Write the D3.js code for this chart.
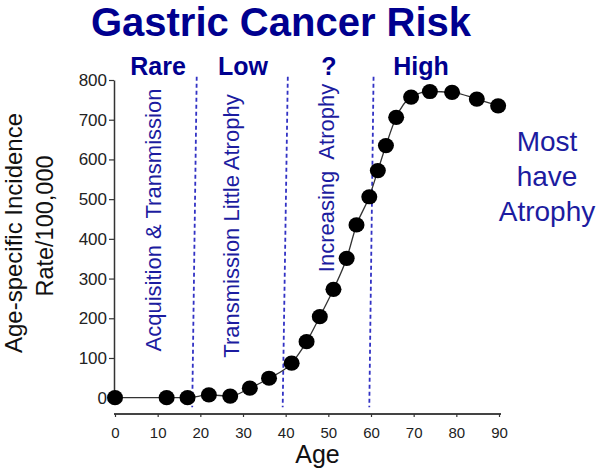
<!DOCTYPE html>
<html>
<head>
<meta charset="utf-8">
<script src="https://cdn.jsdelivr.net/npm/d3@7"></script>
<style>
  html, body { margin: 0; padding: 0; background: #fff; }
  svg { display: block; font-family: "Liberation Sans", Arial, sans-serif; }
</style>
</head>
<body>
<svg id="chart" width="600" height="475"></svg>
<script>
// ---- data ----
const ages = [0, 12.1, 17, 22, 27, 31.6, 36.1, 41.4, 44.9, 48, 51.2, 54.3, 56.6, 59.6, 61.6, 63.5, 65.9, 69.4, 73.8, 79, 84.8, 89.8];
const rates = [0, 0, 0, 7, 4, 24, 49, 87, 141, 204, 273, 351, 435, 506, 572, 635, 706, 757, 771, 769, 752, 735];
const xTicks = [0, 10, 20, 30, 40, 50, 60, 70, 80, 90];
const yTicks = [0, 100, 200, 300, 400, 500, 600, 700, 800];
const boundaryTopAges = [19.15, 40.5, 60.6];
const boundaryBottomAges = [18.1, 39.3, 59.6];
const boundaryRange = [808, -24];
const phaseLabels = ["Rare", "Low", "?", "High"];
const phaseNotes = ["Acquisition & Transmission", "Transmission Little Atrophy", "Increasing  Atrophy"];
const sideNote = ["Most", "have", "Atrophy"];
const titleText = "Gastric Cancer Risk";
const xTitle = "Age";
const yTitle = ["Age-specific Incidence", "Rate/100,000"];

// ---- layout ----
const svg = d3.select("#chart");
const x = d3.scaleLinear().domain([0, 90]).range([115, 499]);
const y = d3.scaleLinear().domain([0, 800]).range([397.7, 80]);
const navy = "#00008f";
const blue = "#1c1ca0";

// title
svg.append("text").attr("x", 281).attr("y", 36).attr("text-anchor", "middle")
  .attr("font-size", 40).attr("font-weight", "bold").attr("fill", navy).text(titleText);

// phase labels
const phaseX = [158, 243, 329, 421];
svg.selectAll("text.phase").data(phaseLabels).join("text").attr("class", "phase")
  .attr("x", (d, i) => phaseX[i]).attr("y", 75).attr("text-anchor", "middle")
  .attr("font-size", 25).attr("font-weight", "bold").attr("fill", navy).text(d => d);

// dashed boundaries
svg.selectAll("line.bound").data(boundaryTopAges).join("line").attr("class", "bound")
  .attr("x1", d => x(d)).attr("y1", y(boundaryRange[0]))
  .attr("x2", (d, i) => x(boundaryBottomAges[i])).attr("y2", y(boundaryRange[1]))
  .attr("stroke", "#3232c4").attr("stroke-width", 1.8).attr("stroke-dasharray", "4,3");

// rotated phase notes
const noteX = [161, 239, 334];
const noteY = [220, 226, 178];
svg.selectAll("text.note").data(phaseNotes).join("text").attr("class", "note")
  .attr("transform", (d, i) => `translate(${noteX[i]},${noteY[i]}) rotate(-90)`)
  .attr("text-anchor", "middle").attr("font-size", 22).attr("fill", blue)
  .style("white-space", "pre").text(d => d);

// side note
svg.selectAll("text.side").data(sideNote).join("text").attr("class", "side")
  .attr("x", 547).attr("y", (d, i) => 150.6 + i * 35.2).attr("text-anchor", "middle")
  .attr("font-size", 28).attr("fill", blue).text(d => d);

// y axis
const yAxis = svg.append("g").attr("transform", "translate(114,0)")
  .call(d3.axisLeft(y).tickValues(yTicks).tickSize(5).tickSizeOuter(0).tickPadding(2));
yAxis.select(".domain").attr("stroke", "#333").attr("stroke-width", 1.5);
yAxis.selectAll(".tick line").attr("stroke", "#333").attr("stroke-width", 1.2);
yAxis.selectAll(".tick text").attr("font-size", 17).attr("fill", "#222")
  .attr("font-family", "Liberation Sans, Arial, sans-serif");

// x axis
const xAxis = svg.append("g").attr("transform", "translate(0,414)")
  .call(d3.axisBottom(x).tickValues(xTicks).tickSize(3).tickSizeOuter(0).tickPadding(10));
xAxis.select(".domain").attr("stroke", "#444").attr("stroke-width", 2)
  .attr("d", `M${x(0) - 1},0H${x(90) + 2}`);
xAxis.selectAll(".tick line").attr("stroke", "#333").attr("stroke-width", 1.2);
xAxis.selectAll(".tick text").attr("font-size", 15).attr("fill", "#222")
  .attr("font-family", "Liberation Sans, Arial, sans-serif");

// axis titles
svg.append("text").attr("x", 317.5).attr("y", 463).attr("text-anchor", "middle")
  .attr("font-size", 25).attr("fill", "#111").text(xTitle);
const yTitleX = [22, 53];
const yTitleSize = [24, 23.5];
const yTitleY = [233, 226];
svg.selectAll("text.ytitle").data(yTitle).join("text").attr("class", "ytitle")
  .attr("transform", (d, i) => `translate(${yTitleX[i]},${yTitleY[i]}) rotate(-90)`)
  .attr("text-anchor", "middle").attr("font-size", (d, i) => yTitleSize[i])
  .attr("fill", "#111").text(d => d);

// line + points
const pts = ages.map((a, i) => [a, rates[i]]);
svg.append("path").datum(pts)
  .attr("d", d3.line().x(d => x(d[0])).y(d => y(d[1])).curve(d3.curveMonotoneX))
  .attr("fill", "none").attr("stroke", "#333").attr("stroke-width", 1.3);
svg.selectAll("ellipse.pt").data(pts).join("ellipse").attr("class", "pt")
  .attr("cx", d => x(d[0])).attr("cy", d => y(d[1]))
  .attr("rx", 8).attr("ry", 7.6).attr("fill", "#000");
</script>
</body>
</html>
